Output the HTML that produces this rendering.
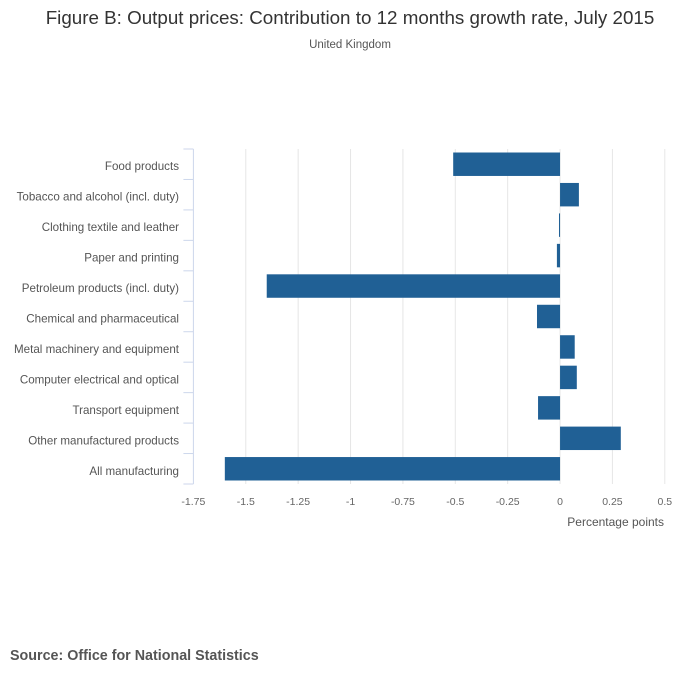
<!DOCTYPE html>
<html><head><meta charset="utf-8"><style>
body{margin:0;background:#fff;font-family:"Liberation Sans",sans-serif;}
svg text{font-family:"Liberation Sans",sans-serif;}
</style></head><body>
<svg width="700" height="682">
<text x="350" y="24" text-anchor="middle" font-size="18.8" fill="#333">Figure B: Output prices: Contribution to 12 months growth rate, July 2015</text>
<text x="350" y="48" text-anchor="middle" font-size="11.5" fill="#555">United Kingdom</text>
<g id="grid"></g><g id="bars"></g><g id="yax"></g><g id="xax"></g>
<text x="664" y="526" text-anchor="end" font-size="12" fill="#555">Percentage points</text>
<text x="10" y="660" font-size="14.3" font-weight="bold" fill="#555">Source: Office for National Statistics</text>
</svg>
<script>
const categories=["Food products","Tobacco and alcohol (incl. duty)","Clothing textile and leather","Paper and printing","Petroleum products (incl. duty)","Chemical and pharmaceutical","Metal machinery and equipment","Computer electrical and optical","Transport equipment","Other manufactured products","All manufacturing"];
const values=[-0.51,0.09,-0.005,-0.015,-1.40,-0.11,0.07,0.08,-0.105,0.29,-1.60];
const ticks=[-1.75,-1.5,-1.25,-1,-0.75,-0.5,-0.25,0,0.25,0.5];
const tickLabels=["-1.75","-1.5","-1.25","-1","-0.75","-0.5","-0.25","0","0.25","0.5"];
const NS="http://www.w3.org/2000/svg";
const x0=193.4,x1=664.8,dmin=-1.75,dmax=0.5,yTop=149,yBot=484;
const X=v=>x0+(v-dmin)/(dmax-dmin)*(x1-x0);
const band=(yBot-yTop)/categories.length;
function mk(t,a,p){const e=document.createElementNS(NS,t);for(const k in a)e.setAttribute(k,a[k]);p.appendChild(e);return e;}
const grid=document.getElementById('grid'),bars=document.getElementById('bars'),yax=document.getElementById('yax'),xax=document.getElementById('xax');
ticks.forEach((t,i)=>{
 if(i>0){const l=mk('line',{x1:X(t),x2:X(t),y1:yTop,y2:yBot,stroke:'#e6e6e6','stroke-width':1},grid);
 
 }
 const tx=mk('text',{x:X(t),y:505,'text-anchor':'middle','font-size':10.5,fill:'#666'},xax);
 tx.textContent=tickLabels[i];
 
 
});
const ax=mk('line',{x1:x0,x2:x0,y1:yTop,y2:yBot,stroke:'#ccd6eb','stroke-width':1},yax);


for(let i=0;i<=categories.length;i++){
 const tk=mk('line',{x1:x0-10,x2:x0,y1:yTop+i*band,y2:yTop+i*band,stroke:'#ccd6eb'},yax);
 
 
}
categories.forEach((c,i)=>{
 const cy=yTop+(i+0.5)*band;
 const tx=mk('text',{x:179,y:cy+6,'text-anchor':'end','font-size':11.6,fill:'#555'},yax);
 tx.textContent=c;
 
 
 const v=values[i],h=band*0.77;
 const r=mk('rect',{x:Math.min(X(0),X(v)),y:cy-h/2,width:Math.max(1,Math.abs(X(v)-X(0))),height:h,fill:'#206095'},bars);
 
 
});
</script>
</body></html>
